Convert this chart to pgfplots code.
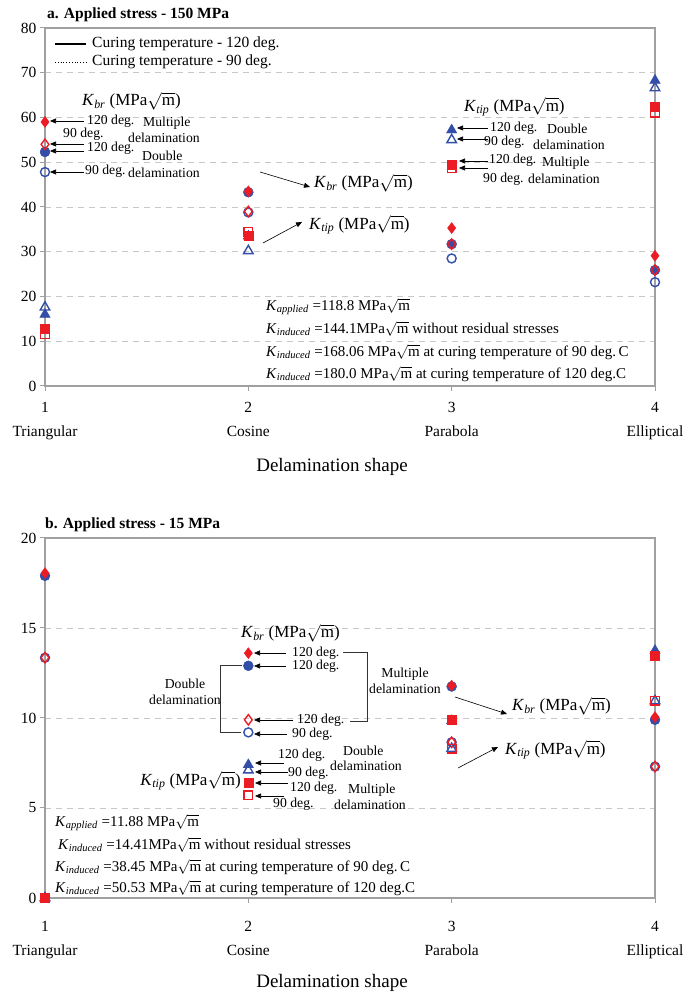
\documentclass[border=0pt]{standalone}
\usepackage{fontspec}
\setmainfont{Liberation Serif}
\usepackage{pgfplots}
\usepackage{pgfplotstable}
\pgfplotsset{compat=1.18}
\usetikzlibrary{arrows.meta}
\definecolor{mred}{RGB}{236,28,36}
\definecolor{mblue}{RGB}{50,78,168}
\definecolor{axgray}{RGB}{160,160,160}
\definecolor{grgray}{RGB}{200,200,200}
\newcommand{\Kl}[1]{\textit{K}\textsubscript{\textit{#1}}}
\newcommand{\un}{MPa$\sqrt{\mbox{m}}$}
\newcommand{\fA}{\fontsize{13.7}{16}\selectfont}
\newcommand{\fK}{\fontsize{17}{19}\selectfont}
\newcommand{\fT}{\fontsize{15.5}{18}\selectfont}
\newcommand{\fB}{\fontsize{15}{18}\selectfont}

\pgfplotstableread{
x brM120 brM90 brD120 brD90 tipD120 tipD90 tipM120 tipM90
1 59.0 54.0 52.3 47.8 16.0 17.6 12.8 11.6
2 43.5 39.0 43.3 38.8 33.5 30.2 33.5 34.5
3 35.3 31.7 31.7 28.5 57.2 55.0 49.5 48.7
4 29.1 25.9 25.9 23.2 68.3 66.6 62.5 61.1
}\tabA

\pgfplotstableread{
x brM120 brM90 brD120 brD90 tipD120 tipD90 tipM120 tipM90
1 18.05 13.35 17.9 13.35 0 0 0 0
2 13.6 9.9 12.9 9.2 7.4 7.1 6.4 5.7
3 11.8 8.65 11.75 8.65 9.85 8.3 9.9 8.3
4 10.05 7.3 9.9 7.3 13.75 10.95 13.45 10.95
}\tabB

\pgfplotsset{
  mystyle/.style={
    scale only axis, width=610pt, xmin=1, xmax=4, xtick={1,2,3,4},
    xticklabels={{1\\[6pt]Triangular},{2\\[6pt]Cosine},{3\\[6pt]Parabola},{4\\[6pt]Elliptical}},
    xticklabel style={align=center, font=\fT},
    yticklabel style={font=\fT},
    /pgf/number format/assume math mode=true,
    axis line style={axgray, line width=1.5pt},
    tick style={axgray, line width=1pt},
    tick align=outside, major tick length=5pt, tick pos=left,
    ymajorgrids, grid style={grgray, line width=0.8pt, dash pattern=on 6pt off 5pt},
    clip=false,
  },
  bfc/.style={only marks, mark=*, mark size=5pt, mblue, mark options={fill=mblue, draw=mblue}},
  boc/.style={only marks, mark=o, mark size=4.5pt, mblue, mark options={draw=mblue, line width=1.4pt, fill=none}},
  rfd/.style={only marks, mark=diamond*, mark size=5.5pt, mred, mark options={fill=mred, draw=mred}},
  rod/.style={only marks, mark=diamond, mark size=5.2pt, mred, mark options={draw=mred, line width=1.4pt, fill=none}},
  bft/.style={only marks, mark=triangle*, mark size=6pt, mblue, mark options={fill=mblue, draw=mblue}},
  bot/.style={only marks, mark=triangle, mark size=5.5pt, mblue, mark options={draw=mblue, line width=1.4pt, fill=none}},
  rfs/.style={only marks, mark=square*, mark size=4.5pt, mred, mark options={fill=mred, draw=mred}},
  ros/.style={only marks, mark=square, mark size=4.3pt, mred, mark options={draw=mred, line width=1.4pt, fill=none}},
}

\begin{document}
\begin{tikzpicture}
\useasboundingbox (0,0) rectangle (694pt,995pt);

% ---------- top axis ----------
\begin{axis}[mystyle, at={(45pt,609pt)}, anchor=south west, height=358pt,
  ymin=0, ymax=80, ytick={0,10,...,80}, xticklabel style={yshift=-8pt}]
\addplot[bfc] table[x=x,y=brD120]{\tabA};
\addplot[boc] table[x=x,y=brD90]{\tabA};
\addplot[rfd] table[x=x,y=brM120]{\tabA};
\addplot[rod] table[x=x,y=brM90]{\tabA};
\addplot[bot] table[x=x,y=tipD90]{\tabA};
\addplot[bft] table[x=x,y=tipD120]{\tabA};
\addplot[ros] table[x=x,y=tipM90]{\tabA};
\addplot[rfs] table[x=x,y=tipM120]{\tabA};
\end{axis}

% ---------- bottom axis ----------
\begin{axis}[mystyle, at={(45pt,97pt)}, anchor=south west, height=360pt,
  ymin=0, ymax=20, ytick={0,5,...,20}, xticklabel style={yshift=-15pt}]
\addplot[bfc] table[x=x,y=brD120]{\tabB};
\addplot[boc] table[x=x,y=brD90]{\tabB};
\addplot[rfd] table[x=x,y=brM120]{\tabB};
\addplot[rod] table[x=x,y=brM90]{\tabB};
\addplot[bot] table[x=x,y=tipD90]{\tabB};
\addplot[bft] table[x=x,y=tipD120]{\tabB};
\addplot[ros] table[x=x,y=tipM90]{\tabB};
\addplot[rfs] table[x=x,y=tipM120]{\tabB};
\end{axis}

% ---------- annotations (pixel coordinates, y downward) ----------
\begin{scope}[x=1pt, y=-1pt, yshift=995pt, >={Triangle[length=6pt,width=5pt]}, every node/.style={inner sep=0pt}]
% titles
\node[anchor=west, font=\fT\bfseries] at (47,15) {a. Applied stress - 150 MPa};
\node[anchor=west, font=\fT\bfseries] at (45,525) {b. Applied stress - 15 MPa};
\node[font=\fontsize{19}{22}\selectfont] at (332,467) {Delamination shape};
\node[font=\fontsize{19}{22}\selectfont] at (332,983) {Delamination shape};
% legend
\draw[black, line width=1.5pt] (55,44) -- (86,44);
\draw[black, line width=0.8pt, dotted] (55,62) -- (86,62);
\node[anchor=west, font=\fT] at (92,44) {Curing temperature - 120 deg.};
\node[anchor=west, font=\fT] at (92,62) {Curing temperature - 90 deg.};

% top left group
\node[anchor=west, font=\fK] at (82,101) {\Kl{br} (\un)};
\draw[->, line width=0.6pt] (84,121) -- (50,121);
\draw[->, line width=0.6pt] (84,144) -- (50,144);
\draw[->, line width=0.6pt] (84,151) -- (50,151);
\draw[->, line width=0.6pt] (84,172) -- (50,172);
\node[anchor=west, font=\fA] at (87,121) {120 deg.};
\node[anchor=west, font=\fA] at (143,123) {Multiple};
\node[anchor=west, font=\fA] at (63,134) {90 deg.};
\node[anchor=west, font=\fA] at (128,138) {delamination};
\node[anchor=west, font=\fA] at (87,148) {120 deg.};
\node[anchor=west, font=\fA] at (142,156) {Double};
\node[anchor=west, font=\fA] at (85,171) {90 deg.};
\node[anchor=west, font=\fA] at (128,173) {delamination};

% top middle
\draw[->, line width=0.6pt] (260,172) -- (310,187);
\node[anchor=west, font=\fK] at (314,183) {\Kl{br} (\un)};
\draw[->, line width=0.6pt] (263,243) -- (302,222);
\node[anchor=west, font=\fK] at (309,225) {\Kl{tip} (\un)};

% top right group
\node[anchor=west, font=\fK] at (464,107) {\Kl{tip} (\un)};
\draw[->, line width=0.6pt] (488,128) -- (457,128);
\draw[->, line width=0.6pt] (488,139) -- (457,139);
\draw[->, line width=0.6pt] (488,161) -- (459,161);
\draw[->, line width=0.6pt] (488,168) -- (459,168);
\node[anchor=west, font=\fA] at (490,128) {120 deg.};
\node[anchor=west, font=\fA] at (547,129) {Double};
\node[anchor=west, font=\fA] at (484,142) {90 deg.};
\node[anchor=west, font=\fA] at (533,145) {delamination};
\node[anchor=west, font=\fA] at (489,160) {120 deg.};
\node[anchor=west, font=\fA] at (542,163) {Multiple};
\node[anchor=west, font=\fA] at (483,179) {90 deg.};
\node[anchor=west, font=\fA] at (528,179) {delamination};

% top text box
\node[anchor=west, font=\fB] at (266,307) {\Kl{applied} =118.8 \un};
\node[anchor=west, font=\fB] at (266,329) {\Kl{induced} =144.1MPa$\sqrt{\mbox{m}}$ without residual stresses};
\node[anchor=west, font=\fB] at (266,352) {\Kl{induced} =168.06 \un{} at curing temperature of 90 deg.\,C};
\node[anchor=west, font=\fB] at (266,374) {\Kl{induced} =180.0 \un{} at curing temperature of 120 deg.C};

% bottom middle Kbr group
\node[anchor=west, font=\fK] at (241,633) {\Kl{br} (\un)};
\draw[->, line width=0.6pt] (286,653) -- (254,653);
\draw[->, line width=0.6pt] (286,666) -- (254,666);
\draw[->, line width=0.6pt] (293,720) -- (254,720);
\draw[->, line width=0.6pt] (287,734) -- (254,734);
\node[anchor=west, font=\fA] at (292,653) {120 deg.};
\node[anchor=west, font=\fA] at (292,666) {120 deg.};
\node[anchor=west, font=\fA] at (297,720) {120 deg.};
\node[anchor=west, font=\fA] at (292,734) {90 deg.};
\draw[line width=1pt, black!80] (343,653) -- (367,653) -- (367,722) -- (350,722);
\draw[line width=1pt, black!80] (242,666) -- (220,666) -- (220,733) -- (241,733);
\node[align=center, font=\fA] at (185,692) {Double\\delamination};
\node[align=center, font=\fA] at (405,681) {Multiple\\delamination};

% bottom Ktip group
\node[anchor=east, font=\fK] at (241,781) {\Kl{tip} (\un)};
\draw[->, line width=0.6pt] (284,763) -- (255,763);
\draw[->, line width=0.6pt] (288,772) -- (255,772);
\draw[->, line width=0.6pt] (288,783) -- (255,783);
\draw[->, line width=0.6pt] (284,796) -- (255,796);
\node[anchor=west, font=\fA] at (278,755) {120 deg.};
\node[anchor=west, font=\fA] at (288,773) {90 deg.};
\node[anchor=west, font=\fA] at (290,788) {120 deg.};
\node[anchor=west, font=\fA] at (273,804) {90 deg.};
\node[anchor=west, font=\fA] at (343,751) {Double};
\node[anchor=west, font=\fA] at (330,766) {delamination};
\node[anchor=west, font=\fA] at (348,790) {Multiple};
\node[anchor=west, font=\fA] at (334,805) {delamination};

% bottom right
\draw[->, line width=0.6pt] (455,697) -- (507,714);
\node[anchor=west, font=\fK] at (512,706) {\Kl{br} (\un)};
\draw[->, line width=0.6pt] (458,768) -- (498,747);
\node[anchor=west, font=\fK] at (505,750) {\Kl{tip} (\un)};

% bottom text box
\node[anchor=west, font=\fB] at (55,823) {\Kl{applied} =11.88 \un};
\node[anchor=west, font=\fB] at (58,845) {\Kl{induced} =14.41MPa$\sqrt{\mbox{m}}$ without residual stresses};
\node[anchor=west, font=\fB] at (55,867) {\Kl{induced} =38.45 \un{} at curing temperature of 90 deg.\,C};
\node[anchor=west, font=\fB] at (55,888) {\Kl{induced} =50.53 \un{} at curing temperature of 120 deg.C};
\end{scope}
\end{tikzpicture}
\end{document}
